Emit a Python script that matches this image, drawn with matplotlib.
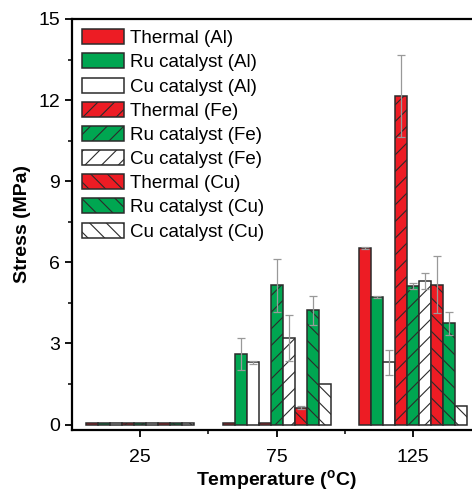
import matplotlib
matplotlib.use('Agg')
import matplotlib.pyplot as plt
import numpy as np

plt.rcParams['font.family'] = ['Liberation Sans', 'DejaVu Sans']
plt.rcParams['mathtext.fontset'] = 'custom'
plt.rcParams['mathtext.rm'] = 'Liberation Sans'
plt.rcParams['mathtext.bf'] = 'Liberation Sans:bold'
plt.rcParams['hatch.linewidth'] = 0.8

temps = [25, 75, 125]
labels = ['Thermal (Al)', 'Ru catalyst (Al)', 'Cu catalyst (Al)',
          'Thermal (Fe)', 'Ru catalyst (Fe)', 'Cu catalyst (Fe)',
          'Thermal (Cu)', 'Ru catalyst (Cu)', 'Cu catalyst (Cu)']

# stress (MPa) at 25, 75, 125 C for each series
thermal_al = [0.05, 0.05, 6.52]
ru_al = [0.05, 2.62, 4.72]
cu_al = [0.05, 2.30, 2.30]
thermal_fe = [0.05, 0.05, 12.15]
ru_fe = [0.05, 5.15, 5.12]
cu_fe = [0.05, 3.20, 5.30]
thermal_cu = [0.05, 0.62, 5.17]
ru_cu = [0.05, 4.22, 3.74]
cu_cu = [0.05, 1.51, 0.68]

err_thermal_al = [0, 0, 0.03]
err_ru_al = [0, 0.60, 0.05]
err_cu_al = [0, 0.06, 0.45]
err_thermal_fe = [0, 0, 1.50]
err_ru_fe = [0, 0.97, 0.10]
err_cu_fe = [0, 0.86, 0.30]
err_thermal_cu = [0, 0.05, 1.05]
err_ru_cu = [0, 0.52, 0.44]
err_cu_cu = [0, 0, 0]

values = [thermal_al, ru_al, cu_al, thermal_fe, ru_fe, cu_fe, thermal_cu, ru_cu, cu_cu]
errors = [err_thermal_al, err_ru_al, err_cu_al, err_thermal_fe, err_ru_fe,
          err_cu_fe, err_thermal_cu, err_ru_cu, err_cu_cu]

red = '#ED1C24'
green = '#00A651'
colors = [red, green, 'white'] * 3
hatches = [None] * 3 + ['//'] * 3 + ['\\\\'] * 3

fig = plt.figure(figsize=(4.72, 4.92), dpi=100)
ax = fig.add_axes([0.1525, 0.126, 0.8676, 0.8354])

width = 4.4
x = np.array(temps, dtype=float)
for i in range(9):
    pos = x + (i - 4) * width
    ax.bar(pos, values[i], width, color=colors[i], edgecolor='#2b2b2b',
           linewidth=1.1, hatch=hatches[i], label=labels[i], zorder=2)
    e = np.array(errors[i])
    m = e > 0
    if m.any():
        ax.errorbar(pos[m], np.array(values[i])[m], yerr=e[m], fmt='none',
                    ecolor='#999999', elinewidth=0.9, capsize=3,
                    capthick=0.9, zorder=3)

ax.set_xlim(0, 150)
ax.set_ylim(-0.2, 15)
ax.set_xticks(temps)
ax.set_xticks([50, 100], minor=True)
ax.set_yticks([0, 3, 6, 9, 12, 15])
ax.set_yticks(np.arange(0, 15.1, 1.5), minor=True)
ax.tick_params(axis='both', which='major', labelsize=14, length=5, width=1.3,
               direction='out')
ax.tick_params(axis='both', which='minor', length=3, width=1.1, direction='out')
ax.tick_params(axis='x', pad=9)
ax.spines['right'].set_visible(False)
for s in ['left', 'bottom', 'top']:
    ax.spines[s].set_linewidth(1.6)

ax.set_ylabel('Stress (MPa)', fontsize=14, fontweight='bold', labelpad=5)
ax.set_xlabel(r'Temperature ($^{\mathbf{o}}$C)', fontsize=14,
              fontweight='bold', labelpad=1)

ax.legend(loc='upper left', frameon=False, fontsize=13.5, handlelength=2.2,
          handleheight=0.85, handletextpad=0.35, labelspacing=0.33,
          borderaxespad=0.15, bbox_to_anchor=(0.0, 1.0))

fig.savefig('out.png', dpi=100)
